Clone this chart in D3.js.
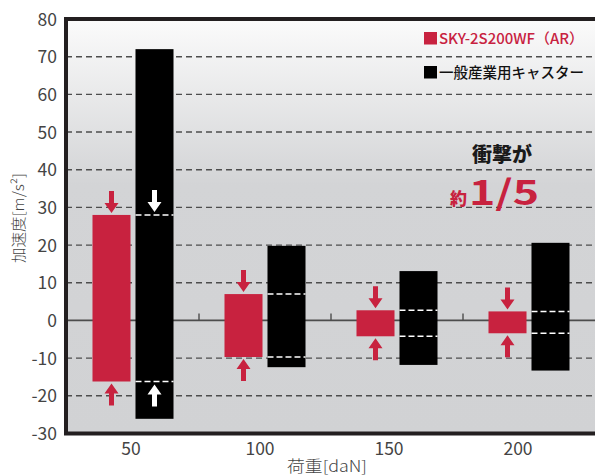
<!DOCTYPE html>
<html>
<head>
<meta charset="utf-8">
<script src="https://cdn.jsdelivr.net/npm/d3@7"></script>
<style>
  body { margin: 0; background: #fff; }
  text { font-family: "Noto Sans CJK JP", "Liberation Sans", sans-serif; }
</style>
</head>
<body>
<div class="container"></div>
<script>
// values
const loads = ["50", "100", "150", "200"];
const skyTop = [28, 7, 2.7, 2.4];
const skyBottom = [-16.2, -9.7, -4.2, -3.4];
const genTop = [72, 19.8, 13.1, 20.6];
const genBottom = [-26.1, -12.4, -11.8, -13.3];
const yTicks = [-30, -20, -10, 0, 10, 20, 30, 40, 50, 60, 70, 80];
const seriesNames = ["SKY-2S200WF（AR）", "一般産業用キャスター"];
const whiteArrowLoads = ["50"];

const w = 595;
const h = 475;
const red = "#c8223f";

const svg = d3.select(".container")
  .append("svg")
  .attr("width", w)
  .attr("height", h);

const defs = svg.append("defs");
const grad = defs.append("linearGradient")
  .attr("id", "bg")
  .attr("x1", 0).attr("y1", 0).attr("x2", 0).attr("y2", 1);
grad.append("stop").attr("offset", "0%").attr("stop-color", "#fbfbfb");
grad.append("stop").attr("offset", "40%").attr("stop-color", "#d3d4d6");
grad.append("stop").attr("offset", "100%").attr("stop-color", "#d1d2d4");

const plotLeft = 66, plotRight = 599, plotTop = 19, plotBottom = 433.5;

const yScale = d3.scaleLinear().domain([-30, 80]).range([plotBottom, plotTop]);
const xScale = d3.scaleBand().domain(loads).range([67, 595]);
const inner = d3.scaleBand().domain(["sky", "gen"]).range([0, xScale.bandwidth()])
  .paddingInner(0.116).paddingOuter(0.593);
// tick labels sit a little left of the bar pairs in the original
const xLabel = d3.scaleLinear().domain([50, 200]).range([131, 518]);

svg.append("rect")
  .attr("x", plotLeft).attr("y", plotTop)
  .attr("width", plotRight - plotLeft).attr("height", plotBottom - plotTop)
  .attr("fill", "url(#bg)");

// grid
svg.append("g")
  .selectAll("line")
  .data(yTicks.filter(d => d !== 0 && d !== 80 && d !== -30))
  .join("line")
  .attr("x1", plotLeft).attr("x2", plotRight)
  .attr("y1", d => yScale(d)).attr("y2", d => yScale(d))
  .attr("stroke", "#4d4d4d")
  .attr("stroke-width", 1.4)
  .attr("stroke-dasharray", "6,4");

svg.append("line")
  .attr("x1", plotLeft).attr("x2", plotRight)
  .attr("y1", yScale(0)).attr("y2", yScale(0))
  .attr("stroke", "#4d4d4d")
  .attr("stroke-width", 1.8);

// small ticks between groups on the zero line
svg.append("g")
  .selectAll("line")
  .data(loads.slice(1))
  .join("line")
  .attr("x1", d => xScale(d)).attr("x2", d => xScale(d))
  .attr("y1", yScale(0)).attr("y2", yScale(0) - 7)
  .attr("stroke", "#4d4d4d")
  .attr("stroke-width", 1.4);

// bars
const groups = svg.append("g")
  .selectAll("g")
  .data(loads)
  .join("g")
  .attr("transform", d => "translate(" + xScale(d) + ",0)");

groups.append("rect")
  .attr("x", inner("sky"))
  .attr("width", inner.bandwidth())
  .attr("y", (d, i) => yScale(skyTop[i]))
  .attr("height", (d, i) => yScale(skyBottom[i]) - yScale(skyTop[i]))
  .attr("fill", red);

groups.append("rect")
  .attr("x", inner("gen"))
  .attr("width", inner.bandwidth())
  .attr("y", (d, i) => yScale(genTop[i]))
  .attr("height", (d, i) => yScale(genBottom[i]) - yScale(genTop[i]))
  .attr("fill", "#000");

// white dashes showing the red range on the black bars
[skyTop, skyBottom].forEach(vals => {
  groups.append("line")
    .attr("x1", inner("gen")).attr("x2", inner("gen") + inner.bandwidth())
    .attr("y1", (d, i) => yScale(vals[i])).attr("y2", (d, i) => yScale(vals[i]))
    .attr("stroke", "#fff")
    .attr("stroke-width", 1.5)
    .attr("stroke-dasharray", "6,3");
});

// arrows: tip at (x, y), dir 1 = pointing down, -1 = pointing up
function arrow(x, y, dir) {
  const L = 22, head = 10, hw = 7, sw = 2.5;
  return "M" + x + "," + y +
    "L" + (x - hw) + "," + (y - dir * head) +
    "L" + (x - sw) + "," + (y - dir * head) +
    "L" + (x - sw) + "," + (y - dir * L) +
    "L" + (x + sw) + "," + (y - dir * L) +
    "L" + (x + sw) + "," + (y - dir * head) +
    "L" + (x + hw) + "," + (y - dir * head) + "Z";
}

const cx1 = inner("sky") + inner.bandwidth() / 2;
groups.append("path")
  .attr("d", (d, i) => arrow(cx1, yScale(skyTop[i]) - 2, 1))
  .attr("fill", red);
groups.append("path")
  .attr("d", (d, i) => arrow(cx1, yScale(skyBottom[i]) + 2, -1))
  .attr("fill", red);

const cx2 = inner("gen") + inner.bandwidth() / 2;
groups.filter(d => whiteArrowLoads.includes(d)).append("path")
  .attr("d", d => arrow(cx2, yScale(skyTop[loads.indexOf(d)]) - 3, 1))
  .attr("fill", "#fff");
groups.filter(d => whiteArrowLoads.includes(d)).append("path")
  .attr("d", d => arrow(cx2, yScale(skyBottom[loads.indexOf(d)]) + 3, -1))
  .attr("fill", "#fff");

// frame
svg.append("rect")
  .attr("x", plotLeft).attr("y", plotTop)
  .attr("width", plotRight - plotLeft).attr("height", plotBottom - plotTop)
  .attr("fill", "none")
  .attr("stroke", "#231f20")
  .attr("stroke-width", 4);

// y axis labels
svg.append("g")
  .selectAll("text")
  .data(yTicks)
  .join("text")
  .attr("x", 57)
  .attr("y", d => yScale(d) + 6.5)
  .attr("text-anchor", "end")
  .attr("font-family", "'Liberation Sans', sans-serif")
  .attr("font-size", 17.5)
  .attr("fill", "#444")
  .text(d => d);

// x axis labels
svg.append("g")
  .selectAll("text")
  .data(loads)
  .join("text")
  .attr("x", d => xLabel(+d))
  .attr("y", 455)
  .attr("text-anchor", "middle")
  .attr("font-family", "'Liberation Sans', sans-serif")
  .attr("font-size", 17.5)
  .attr("fill", "#444")
  .text(d => d);

svg.append("text")
  .attr("x", 327).attr("y", 472)
  .attr("text-anchor", "middle")
  .attr("font-size", 15.5)
  .attr("font-weight", 300)
  .attr("fill", "#444")
  .attr("textLength", 80)
  .attr("lengthAdjust", "spacingAndGlyphs")
  .text("荷重[daN]");

svg.append("text")
  .attr("transform", "translate(24,218) rotate(-90)")
  .attr("text-anchor", "middle")
  .attr("font-size", 15)
  .attr("font-weight", 300)
  .attr("fill", "#444")
  .attr("textLength", 90)
  .attr("lengthAdjust", "spacingAndGlyphs")
  .text("加速度[m/s²]");

// legend
const legend = svg.append("g");
const legendColors = [red, "#000"];
const legendY = [38, 72];
seriesNames.forEach((name, i) => {
  legend.append("rect")
    .attr("x", 424).attr("y", legendY[i] - 6)
    .attr("width", 13).attr("height", 12.5)
    .attr("fill", legendColors[i]);
  legend.append("text")
    .attr("x", 439).attr("y", legendY[i] + 5.5)
    .attr("font-size", 14.5)
    .attr("font-weight", 500)
    .attr("fill", legendColors[i] === "#000" ? "#111" : red)
    .attr("textLength", 145)
    .attr("lengthAdjust", "spacingAndGlyphs")
    .text(name);
});

// annotation
svg.append("text")
  .attr("x", 502).attr("y", 162)
  .attr("text-anchor", "middle")
  .attr("font-size", 20)
  .attr("font-weight", 900)
  .attr("fill", "#1a1a1a")
  .text("衝撃が");

svg.append("text")
  .attr("x", 450).attr("y", 205)
  .attr("font-size", 17)
  .attr("font-weight", 900)
  .attr("fill", red)
  .text("約");

svg.append("text")
  .attr("x", 469).attr("y", 205)
  .attr("font-family", "'Liberation Sans', sans-serif")
  .attr("font-size", 34)
  .attr("font-weight", "bold")
  .attr("fill", red)
  .attr("textLength", 70)
  .attr("lengthAdjust", "spacingAndGlyphs")
  .text("1/5");
</script>
</body>
</html>
